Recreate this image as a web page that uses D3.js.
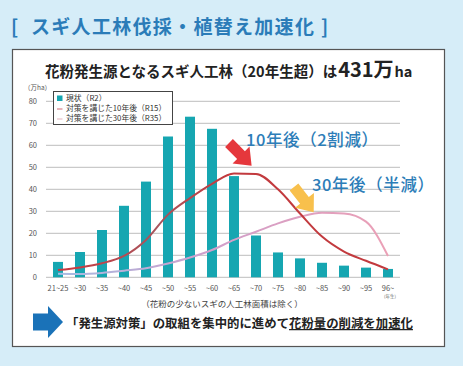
<!DOCTYPE html>
<meta charset="utf-8">
<head>
<style>
  body { margin:0; background:#d6edf8; }
  svg { display:block; font-family:"Noto Sans CJK JP", "Noto Sans", sans-serif; }
</style>
<script src="https://cdn.jsdelivr.net/npm/d3@7"></script>
</head>
<body>
<script>

var width = 463, height = 366;

// data (万ha)
var categories = ["21~25", "~30", "~35", "~40", "~45", "~50", "~55", "~60", "~65", "~70", "~75", "~80", "~85", "~90", "~95", "96~"];
var current = [7, 11.5, 21.5, 32.5, 43.5, 64, 73, 67.5, 46, 19, 11.3, 8.6, 6.6, 5.3, 4.4, 3.8];
var after10 = [3.3, 4.5, 6.4, 9.7, 17, 28.5, 36, 42.5, 47.2, 47, 40, 29, 18.5, 11.7, 7.5, 3.6];
var after30 = [1.6, 1.5, 2, 3, 4.1, 6.3, 9, 12.4, 17, 20.7, 24.5, 27.5, 29.3, 29, 25.3, 9.7];
var yTicks = [0, 10, 20, 30, 40, 50, 60, 70, 80];
var legendLabels = ["現状（R2）", "対策を講じた10年後（R15）", "対策を講じた30年後（R35）"];

var svg = d3.select("body").append("svg")
    .attr("width", width)
    .attr("height", height);

var defs = svg.append("defs");

var g1 = defs.append("linearGradient").attr("id", "pinkGrad")
    .attr("gradientUnits", "userSpaceOnUse").attr("x1", 58).attr("x2", 388).attr("y1", 0).attr("y2", 0);
g1.append("stop").attr("offset", 0).attr("stop-color", "#a6bbe2");
g1.append("stop").attr("offset", 0.45).attr("stop-color", "#cf9fcb");
g1.append("stop").attr("offset", 1).attr("stop-color", "#eba0b6");

var g2 = defs.append("linearGradient").attr("id", "redGrad")
    .attr("gradientUnits", "userSpaceOnUse").attr("x1", 58).attr("x2", 388).attr("y1", 0).attr("y2", 0);
g2.append("stop").attr("offset", 0).attr("stop-color", "#cc383d");
g2.append("stop").attr("offset", 0.3).attr("stop-color", "#a8555d");
g2.append("stop").attr("offset", 0.5).attr("stop-color", "#c23a3e");
g2.append("stop").attr("offset", 1).attr("stop-color", "#c23a3e");

// heading
var head = svg.append("text")
    .attr("y", 34)
    .attr("fill", "#2b7cb8")
    .attr("font-size", 19).attr("font-weight", "bold");
head.append("tspan").attr("x", 11).text("[");
head.append("tspan").attr("x", 31).attr("letter-spacing", 1.3).text("スギ人工林伐採・植替え加速化");
head.append("tspan").attr("x", 321).text("]");

// white panel
svg.append("rect")
    .attr("x", 12.5).attr("y", 49.5).attr("width", 432).attr("height", 297)
    .attr("fill", "#fff").attr("stroke", "#555").attr("stroke-width", 1.2);

// chart title
var title = svg.append("text")
    .attr("x", 45).attr("y", 77)
    .attr("fill", "#222").attr("font-weight", "bold").attr("font-size", 14.5);
title.append("tspan").text("花粉発生源となるスギ人工林（20年生超）は");
title.append("tspan").attr("font-size", 20).attr("dx", 1).text("431万");
title.append("tspan").attr("dx", 1).text("ha");

var x = d3.scalePoint().domain(categories).range([47, 399]).padding(0.5);
var y = d3.scaleLinear().domain([0, 80]).range([277.3, 101.3]);

// grid
svg.append("g").selectAll("line")
    .data(yTicks)
  .enter().append("line")
    .attr("x1", 46).attr("x2", 400)
    .attr("y1", function(d) { return y(d); })
    .attr("y2", function(d) { return y(d); })
    .attr("stroke", "#bdbdbd").attr("stroke-width", 1);

svg.append("g").selectAll("text")
    .data(yTicks)
  .enter().append("text")
    .attr("x", 37).attr("y", function(d) { return y(d) + 3; })
    .attr("text-anchor", "end")
    .attr("font-size", 7.5).attr("fill", "#555")
    .text(function(d) { return d; });

svg.append("text")
    .attr("x", 24).attr("y", 90)
    .attr("font-size", 6.5).attr("fill", "#555")
    .text("（万ha）");

// bars
svg.append("g").selectAll("rect")
    .data(current)
  .enter().append("rect")
    .attr("x", function(d, i) { return x(categories[i]) - 5; })
    .attr("width", 10)
    .attr("y", function(d) { return y(d); })
    .attr("height", function(d) { return y(0) - y(d); })
    .attr("fill", "#16a6b1");

// lines
var line = d3.line()
    .x(function(d, i) { return x(categories[i]); })
    .y(function(d) { return y(d); })
    .curve(d3.curveMonotoneX);

svg.append("path").datum(after30)
    .attr("d", line).attr("fill", "none")
    .attr("stroke", "url(#pinkGrad)").attr("stroke-width", 2);

svg.append("path").datum(after10)
    .attr("d", line).attr("fill", "none")
    .attr("stroke", "url(#redGrad)").attr("stroke-width", 2);

// x labels
svg.append("g").selectAll("text")
    .data(categories)
  .enter().append("text")
    .attr("x", function(d) { return x(d); })
    .attr("y", 291)
    .attr("text-anchor", "middle")
    .attr("font-size", 7.5).attr("fill", "#555")
    .text(function(d) { return d; });

svg.append("text")
    .attr("x", x("96~") + 2).attr("y", 297.5)
    .attr("text-anchor", "middle")
    .attr("font-size", 4.5).attr("fill", "#666")
    .text("(年生)");

// legend
var legend = svg.append("g");
legend.append("rect")
    .attr("x", 53.5).attr("y", 91.5).attr("width", 119).attr("height", 33)
    .attr("fill", "#fff").attr("stroke", "#444").attr("stroke-width", 1);
legend.append("rect")
    .attr("x", 57).attr("y", 95.5).attr("width", 5.5).attr("height", 5.5)
    .attr("fill", "#16a6b1");
legend.append("line")
    .attr("x1", 57).attr("x2", 62.5).attr("y1", 109).attr("y2", 109)
    .attr("stroke", "#d9828a").attr("stroke-width", 1.2);
legend.append("line")
    .attr("x1", 57).attr("x2", 62.5).attr("y1", 119).attr("y2", 119)
    .attr("stroke", "#e8c0c8").attr("stroke-width", 1.2);
legend.selectAll("text.lg")
    .data(legendLabels)
  .enter().append("text")
    .attr("class", "lg")
    .attr("x", 66).attr("y", function(d, i) { return 101 + i * 10; })
    .attr("font-size", 7.8).attr("fill", "#333")
    .text(function(d) { return d; });

// arrows (annotation)
function blockArrow(tx, ty, angle, color) {
  svg.append("polygon")
    .attr("points", "0,-5.5 17,-5.5 17,-12 32,0 17,12 17,5.5 0,5.5")
    .attr("fill", color)
    .attr("transform", "translate(" + tx + "," + ty + ")rotate(" + angle + ")");
}
blockArrow(229, 143, 45, "#e5373c");
blockArrow(294, 187, 52, "#f8c04c");

svg.append("text")
    .attr("x", 246).attr("y", 146)
    .attr("font-size", 16.5).attr("letter-spacing", 0.6).attr("fill", "#2c7db8").attr("font-weight", 500)
    .text("10年後（2割減）");

svg.append("text")
    .attr("x", 312).attr("y", 191)
    .attr("font-size", 16.5).attr("letter-spacing", 0.6).attr("fill", "#2c7db8").attr("font-weight", 500)
    .text("30年後（半減）");

// footnote
svg.append("text")
    .attr("x", 222).attr("y", 307)
    .attr("text-anchor", "middle")
    .attr("font-size", 8.5).attr("fill", "#444")
    .text("（花粉の少ないスギの人工林面積は除く）");

// blue arrow + message
svg.append("polygon")
    .attr("points", "33,313.5 48,313.5 48,306 63,322 48,338 48,330.5 33,330.5")
    .attr("fill", "#1a72b8");

var msg = svg.append("text")
    .attr("x", 66).attr("y", 328)
    .attr("font-size", 12.4).attr("font-weight", "bold").attr("fill", "#222");
msg.append("tspan").text("「発生源対策」の取組を集中的に進めて");
msg.append("tspan").attr("text-decoration", "underline").text("花粉量の削減を加速化");

</script>
</body>
